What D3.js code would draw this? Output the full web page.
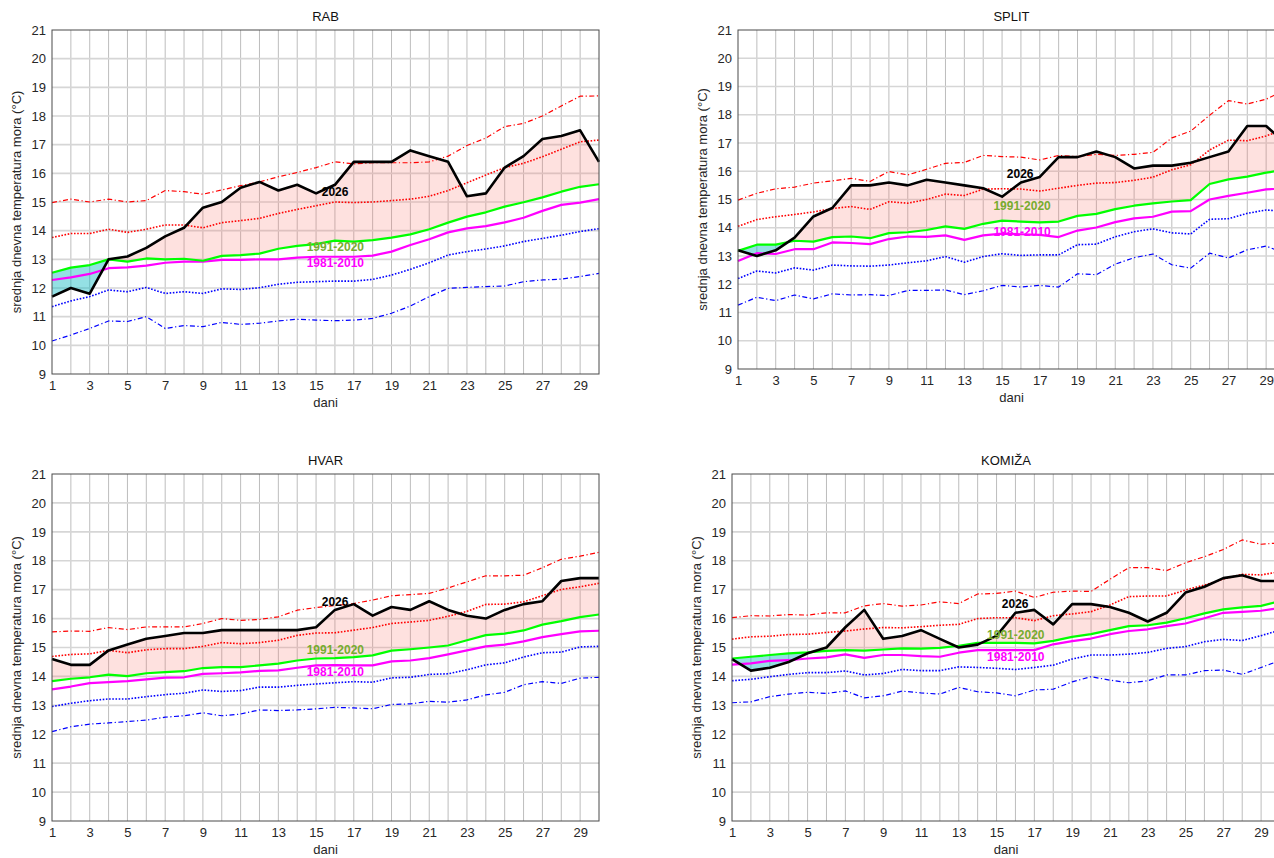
<!DOCTYPE html>
<html>
<head>
<meta charset="utf-8">
<script src="https://cdn.jsdelivr.net/npm/d3@7"></script>
<style>
  body { margin: 0; background: #fff; }
  svg { display: block; font-family: "Liberation Sans", Arial, sans-serif; }
</style>
</head>
<body>
<svg id="chart" width="1274" height="858"></svg>
<script>
// days of the month, axis ticks
const days = d3.range(1, 31);
const xTicks = [1, 3, 5, 7, 9, 11, 13, 15, 17, 19, 21, 23, 25, 27, 29];
const yTicks = [9, 10, 11, 12, 13, 14, 15, 16, 17, 18, 19, 20, 21];

// RAB
const rab2026 = [11.7, 12.0, 11.8, 13.0, 13.1, 13.4, 13.8, 14.1, 14.8, 15.0, 15.5, 15.7, 15.4, 15.6, 15.3, 15.6, 16.4, 16.4, 16.4, 16.8, 16.6, 16.4, 15.2, 15.3, 16.2, 16.6, 17.2, 17.3, 17.5, 16.4];
const rabHigh = [14.98, 15.1, 15.0, 15.1, 15.0, 15.05, 15.4, 15.36, 15.27, 15.42, 15.57, 15.7, 15.88, 16.03, 16.2, 16.4, 16.33, 16.37, 16.37, 16.37, 16.4, 16.6, 16.97, 17.23, 17.63, 17.74, 18.0, 18.35, 18.69, 18.7];
const rabUpper = [13.76, 13.9, 13.9, 14.05, 13.94, 14.05, 14.2, 14.2, 14.1, 14.28, 14.35, 14.43, 14.6, 14.74, 14.87, 15.0, 14.98, 15.0, 15.05, 15.1, 15.2, 15.4, 15.67, 15.94, 16.2, 16.35, 16.58, 16.84, 17.1, 17.16];
const rab9120 = [12.53, 12.71, 12.8, 13.0, 12.92, 13.03, 13.0, 13.02, 12.95, 13.12, 13.15, 13.2, 13.37, 13.47, 13.53, 13.65, 13.62, 13.67, 13.76, 13.87, 14.05, 14.28, 14.49, 14.64, 14.84, 14.99, 15.16, 15.36, 15.53, 15.62];
const rab8110 = [12.28, 12.37, 12.49, 12.69, 12.72, 12.78, 12.88, 12.92, 12.92, 12.98, 12.98, 13.0, 13.0, 13.06, 13.09, 13.09, 13.09, 13.13, 13.27, 13.5, 13.7, 13.94, 14.08, 14.16, 14.29, 14.45, 14.69, 14.9, 14.98, 15.1];
const rabLower = [11.35, 11.55, 11.7, 11.93, 11.87, 12.02, 11.81, 11.87, 11.81, 11.97, 11.95, 12.01, 12.13, 12.2, 12.22, 12.24, 12.24, 12.3, 12.45, 12.65, 12.88, 13.15, 13.27, 13.36, 13.47, 13.62, 13.73, 13.84, 13.97, 14.07];
const rabLow = [10.15, 10.36, 10.59, 10.85, 10.83, 11.0, 10.59, 10.69, 10.65, 10.8, 10.73, 10.77, 10.85, 10.91, 10.88, 10.86, 10.88, 10.94, 11.12, 11.37, 11.7, 11.99, 12.02, 12.05, 12.07, 12.22, 12.28, 12.31, 12.4, 12.51];

// SPLIT
const split2026 = [13.2, 13.0, 13.2, 13.65, 14.4, 14.7, 15.5, 15.5, 15.6, 15.5, 15.7, 15.6, 15.5, 15.4, 15.1, 15.6, 15.8, 16.5, 16.5, 16.7, 16.5, 16.1, 16.2, 16.2, 16.3, 16.5, 16.7, 17.6, 17.6, 17.0];
const splitHigh = [14.98, 15.22, 15.38, 15.44, 15.58, 15.66, 15.75, 15.64, 15.99, 15.87, 16.07, 16.28, 16.31, 16.56, 16.52, 16.5, 16.4, 16.56, 16.52, 16.6, 16.56, 16.6, 16.67, 17.18, 17.42, 17.98, 18.5, 18.38, 18.55, 18.88];
const splitUpper = [14.05, 14.29, 14.39, 14.47, 14.56, 14.68, 14.75, 14.65, 14.92, 14.87, 15.0, 15.19, 15.14, 15.37, 15.38, 15.37, 15.3, 15.4, 15.5, 15.58, 15.6, 15.68, 15.79, 16.05, 16.23, 16.75, 17.1, 17.08, 17.25, 17.5];
const split9120 = [13.18, 13.4, 13.4, 13.54, 13.51, 13.67, 13.69, 13.63, 13.81, 13.84, 13.92, 14.05, 13.96, 14.14, 14.25, 14.22, 14.19, 14.22, 14.42, 14.49, 14.66, 14.78, 14.86, 14.93, 14.98, 15.55, 15.71, 15.81, 15.95, 16.05];
const split8110 = [12.82, 13.1, 13.07, 13.24, 13.24, 13.48, 13.46, 13.42, 13.6, 13.69, 13.68, 13.73, 13.57, 13.73, 13.79, 13.77, 13.75, 13.67, 13.9, 14.01, 14.2, 14.33, 14.39, 14.57, 14.59, 15.0, 15.13, 15.24, 15.36, 15.39];
const splitLower = [12.2, 12.47, 12.4, 12.58, 12.5, 12.68, 12.65, 12.64, 12.68, 12.76, 12.83, 12.98, 12.78, 12.98, 13.08, 13.02, 13.04, 13.04, 13.4, 13.42, 13.68, 13.86, 13.96, 13.82, 13.78, 14.3, 14.32, 14.51, 14.63, 14.58];
const splitLow = [11.26, 11.54, 11.42, 11.62, 11.48, 11.66, 11.62, 11.63, 11.6, 11.78, 11.78, 11.8, 11.63, 11.77, 11.96, 11.9, 11.96, 11.9, 12.37, 12.34, 12.71, 12.94, 13.07, 12.69, 12.57, 13.1, 12.93, 13.22, 13.35, 13.1];

// HVAR
const hvar2026 = [14.6, 14.4, 14.4, 14.9, 15.1, 15.3, 15.4, 15.5, 15.5, 15.6, 15.6, 15.6, 15.6, 15.6, 15.7, 16.3, 16.5, 16.1, 16.4, 16.3, 16.6, 16.3, 16.1, 16.0, 16.3, 16.5, 16.6, 17.3, 17.4, 17.4];
const hvarHigh = [15.54, 15.57, 15.56, 15.69, 15.62, 15.71, 15.71, 15.71, 15.83, 16.0, 15.94, 15.97, 16.06, 16.29, 16.38, 16.45, 16.52, 16.64, 16.79, 16.83, 16.87, 17.06, 17.27, 17.48, 17.48, 17.5, 17.76, 18.05, 18.16, 18.29];
const hvarUpper = [14.69, 14.76, 14.78, 14.9, 14.82, 14.92, 14.96, 14.96, 15.04, 15.17, 15.13, 15.17, 15.25, 15.42, 15.5, 15.51, 15.6, 15.69, 15.83, 15.88, 15.94, 16.08, 16.25, 16.49, 16.5, 16.58, 16.79, 17.01, 17.1, 17.22];
const hvar9120 = [13.84, 13.92, 13.97, 14.06, 14.01, 14.11, 14.15, 14.18, 14.29, 14.32, 14.32, 14.38, 14.44, 14.55, 14.62, 14.63, 14.67, 14.73, 14.89, 14.94, 15.0, 15.07, 15.25, 15.43, 15.48, 15.59, 15.79, 15.91, 16.05, 16.14];
const hvar8110 = [13.55, 13.65, 13.77, 13.8, 13.84, 13.9, 13.96, 13.97, 14.09, 14.11, 14.14, 14.19, 14.21, 14.3, 14.38, 14.39, 14.38, 14.38, 14.52, 14.55, 14.63, 14.76, 14.9, 15.04, 15.1, 15.21, 15.36, 15.46, 15.56, 15.58];
const hvarLower = [12.96, 13.07, 13.16, 13.22, 13.22, 13.3, 13.37, 13.42, 13.53, 13.48, 13.51, 13.63, 13.63, 13.69, 13.74, 13.78, 13.82, 13.8, 13.95, 13.97, 14.07, 14.09, 14.23, 14.4, 14.47, 14.67, 14.82, 14.84, 15.02, 15.04];
const hvarLow = [12.09, 12.26, 12.35, 12.39, 12.44, 12.49, 12.59, 12.64, 12.74, 12.64, 12.7, 12.84, 12.82, 12.84, 12.88, 12.93, 12.91, 12.88, 13.03, 13.05, 13.14, 13.11, 13.19, 13.36, 13.45, 13.71, 13.82, 13.76, 13.94, 13.97];

// KOMIŽA
const komiza2026 = [14.6, 14.2, 14.3, 14.5, 14.8, 15.0, 15.7, 16.3, 15.3, 15.4, 15.6, 15.3, 15.0, 15.1, 15.4, 16.2, 16.3, 15.8, 16.5, 16.5, 16.4, 16.2, 15.9, 16.2, 16.9, 17.1, 17.4, 17.5, 17.3, 17.3];
const komizaHigh = [16.03, 16.1, 16.09, 16.14, 16.12, 16.2, 16.2, 16.44, 16.52, 16.43, 16.47, 16.58, 16.52, 16.85, 16.87, 16.95, 16.73, 16.91, 16.95, 16.94, 17.36, 17.76, 17.76, 17.66, 17.93, 18.14, 18.39, 18.72, 18.57, 18.62];
const komizaUpper = [15.29, 15.37, 15.39, 15.45, 15.46, 15.52, 15.57, 15.64, 15.69, 15.68, 15.72, 15.77, 15.8, 16.0, 16.03, 16.03, 15.93, 16.1, 16.16, 16.24, 16.47, 16.76, 16.78, 16.78, 16.99, 17.16, 17.37, 17.53, 17.51, 17.62];
const komiza9120 = [14.62, 14.68, 14.74, 14.8, 14.83, 14.88, 14.91, 14.89, 14.93, 14.97, 14.96, 14.99, 15.06, 15.16, 15.16, 15.16, 15.14, 15.23, 15.37, 15.46, 15.6, 15.74, 15.77, 15.86, 16.01, 16.18, 16.32, 16.39, 16.44, 16.6];
const komiza8110 = [14.41, 14.45, 14.54, 14.56, 14.62, 14.66, 14.76, 14.64, 14.74, 14.74, 14.7, 14.68, 14.82, 14.91, 14.91, 14.91, 14.91, 15.11, 15.22, 15.31, 15.46, 15.57, 15.63, 15.74, 15.83, 16.01, 16.2, 16.23, 16.27, 16.37];
const komizaLower = [13.85, 13.9, 13.99, 14.07, 14.13, 14.13, 14.19, 14.05, 14.1, 14.24, 14.2, 14.2, 14.33, 14.31, 14.28, 14.24, 14.31, 14.39, 14.6, 14.74, 14.74, 14.77, 14.83, 14.97, 15.03, 15.2, 15.28, 15.24, 15.41, 15.6];
const komizaLow = [13.09, 13.12, 13.3, 13.39, 13.45, 13.41, 13.5, 13.26, 13.33, 13.49, 13.43, 13.39, 13.62, 13.47, 13.43, 13.33, 13.53, 13.56, 13.81, 13.99, 13.87, 13.78, 13.85, 14.05, 14.05, 14.2, 14.22, 14.07, 14.31, 14.55];

// text anchors in data units [day, value]
const stations = [
  { title: "RAB", obs: rab2026, high: rabHigh, upper: rabUpper, c9120: rab9120, c8110: rab8110, lower: rabLower, low: rabLow,
    at2026: [15.3, 15.31], at9120: [14.5, 13.39], at8110: [14.5, 12.83] },
  { title: "SPLIT", obs: split2026, high: splitHigh, upper: splitUpper, c9120: split9120, c8110: split8110, lower: splitLower, low: splitLow,
    at2026: [15.25, 15.87], at9120: [14.54, 14.75], at8110: [14.54, 13.83] },
  { title: "HVAR", obs: hvar2026, high: hvarHigh, upper: hvarUpper, c9120: hvar9120, c8110: hvar8110, lower: hvarLower, low: hvarLow,
    at2026: [15.3, 16.53], at9120: [14.5, 14.89], at8110: [14.5, 14.14] },
  { title: "KOMIŽA", obs: komiza2026, high: komizaHigh, upper: komizaUpper, c9120: komiza9120, c8110: komiza8110, lower: komizaLower, low: komizaLow,
    at2026: [15.28, 16.47], at9120: [14.5, 15.4], at8110: [14.5, 14.64] }
];

// plot boxes: left, top, right, bottom
const frames = [
  [52, 30, 599, 374],
  [738, 30, 1285, 369],
  [52, 474, 599, 821],
  [732, 474, 1280, 821]
];

const svg = d3.select("#chart");
const defs = svg.append("defs");

stations.forEach((st, i) => {
  const [left, top, right, bottom] = frames[i];
  const x = d3.scaleLinear().domain([1, 30]).range([left, right]);
  const y = d3.scaleLinear().domain([9, 21]).range([bottom, top]);
  const g = svg.append("g");

  // grid
  g.append("g").selectAll("line")
    .data(days.slice(1, -1))
    .join("line")
    .attr("x1", d => x(d)).attr("x2", d => x(d))
    .attr("y1", top).attr("y2", bottom)
    .attr("stroke", "#bdbdbd").attr("stroke-width", 1);
  g.append("g").selectAll("line")
    .data(yTicks.slice(1, -1))
    .join("line")
    .attr("x1", left).attr("x2", right)
    .attr("y1", d => y(d)).attr("y2", d => y(d))
    .attr("stroke", "#d6d6d6").attr("stroke-width", 1.6);

  const rows = days.map((d, k) => ({ day: d, obs: st.obs[k], clim: st.c9120[k] }));

  // clip regions above / below the 1991-2020 line
  defs.append("clipPath").attr("id", "above" + i)
    .append("path")
    .attr("d", d3.area().x(d => x(d.day)).y0(top - 5).y1(d => y(d.clim))(rows));
  defs.append("clipPath").attr("id", "below" + i)
    .append("path")
    .attr("d", d3.area().x(d => x(d.day)).y0(bottom + 5).y1(d => y(d.clim))(rows));

  const band = d3.area().x(d => x(d.day)).y0(d => y(d.clim)).y1(d => y(d.obs));
  g.append("path").attr("d", band(rows))
    .attr("clip-path", `url(#above${i})`)
    .attr("fill", "rgb(250,120,110)").attr("fill-opacity", 0.22);
  g.append("path").attr("d", band(rows))
    .attr("clip-path", `url(#below${i})`)
    .attr("fill", "rgb(0,180,190)").attr("fill-opacity", 0.42);

  const line = d3.line().x((d, k) => x(days[k])).y(d => y(d));
  const series = [
    { values: st.low, color: "#0000ff", width: 1.2, dash: "5,2.5,1.2,2.5" },
    { values: st.lower, color: "#0000ff", width: 1.6, dash: "1.6,1.6" },
    { values: st.high, color: "#ff0000", width: 1.2, dash: "5,2.5,1.2,2.5" },
    { values: st.upper, color: "#ff0000", width: 1.6, dash: "1.6,1.6" },
    { values: st.c8110, color: "#ff00ff", width: 2.2, dash: null },
    { values: st.c9120, color: "#00ff00", width: 2.2, dash: null },
    { values: st.obs, color: "#000000", width: 2.6, dash: null }
  ];
  series.forEach(s => {
    g.append("path")
      .attr("d", line(s.values))
      .attr("fill", "none")
      .attr("stroke", s.color)
      .attr("stroke-width", s.width)
      .attr("stroke-dasharray", s.dash)
      .attr("stroke-linejoin", "round");
  });

  // box
  g.append("rect")
    .attr("x", left).attr("y", top)
    .attr("width", right - left).attr("height", bottom - top)
    .attr("fill", "none").attr("stroke", "#4a4a4a").attr("stroke-width", 1);

  // axes
  const xAxis = g.append("g")
    .attr("transform", `translate(0,${bottom})`)
    .call(d3.axisBottom(x).tickValues(xTicks).tickSize(0).tickPadding(7));
  const yAxis = g.append("g")
    .attr("transform", `translate(${left},0)`)
    .call(d3.axisLeft(y).tickValues(yTicks).tickSize(0).tickPadding(6));
  [xAxis, yAxis].forEach(a => {
    a.select(".domain").remove();
    a.selectAll("text")
      .attr("font-size", 13)
      .attr("font-family", "Liberation Sans, Arial, sans-serif")
      .attr("fill", "#262626");
  });

  // titles
  g.append("text")
    .attr("x", (left + right) / 2).attr("y", top - 9)
    .attr("text-anchor", "middle")
    .attr("font-size", 13).attr("fill", "#111")
    .text(st.title);
  g.append("text")
    .attr("x", (left + right) / 2).attr("y", bottom + 33)
    .attr("text-anchor", "middle")
    .attr("font-size", 13).attr("fill", "#262626")
    .text("dani");
  g.append("text")
    .attr("transform", `translate(${left - 34},${(top + bottom) / 2}) rotate(-90)`)
    .attr("text-anchor", "middle")
    .attr("dominant-baseline", "middle")
    .attr("font-size", 13).attr("fill", "#262626")
    .text("srednja dnevna temperatura mora (°C)");

  // series labels
  const labels = [
    { at: st.at2026, text: "2026", color: "#000000" },
    { at: st.at9120, text: "1991-2020", color: "#77ac30" },
    { at: st.at8110, text: "1981-2010", color: "#ff00ff" }
  ];
  labels.forEach(l => {
    g.append("text")
      .attr("x", x(l.at[0])).attr("y", y(l.at[1]))
      .attr("dominant-baseline", "middle")
      .attr("font-size", 12).attr("font-weight", "bold")
      .attr("fill", l.color)
      .text(l.text);
  });
});
</script>
</body>
</html>
